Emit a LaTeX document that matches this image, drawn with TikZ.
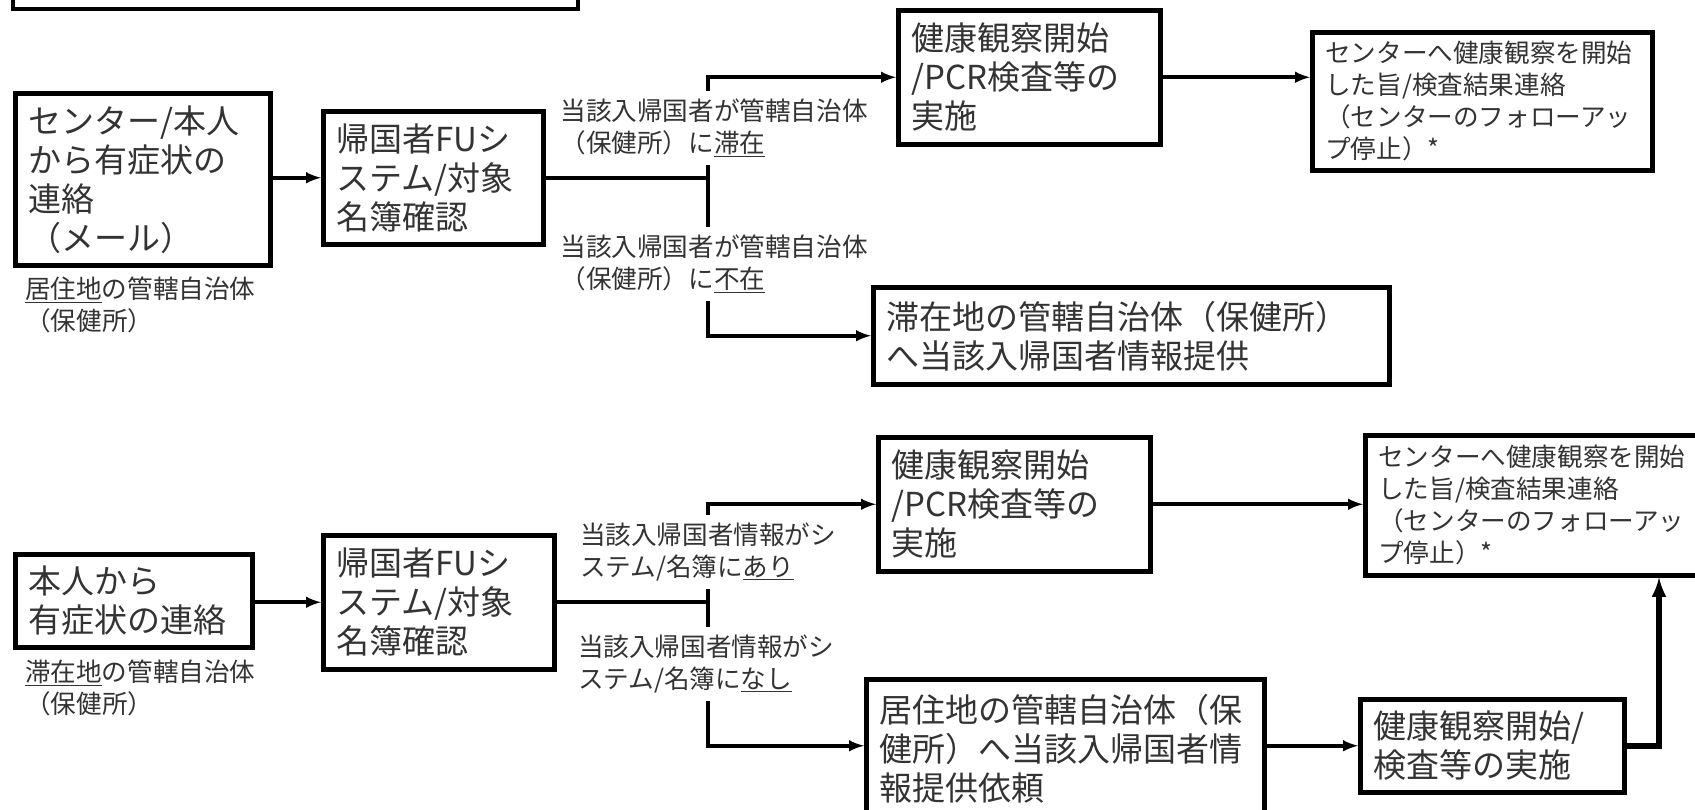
\documentclass[tikz,border=0pt]{standalone}
\usepackage{fontspec}
\setmainfont{Noto Sans CJK JP}
\usepackage{tikz}
\usetikzlibrary{arrows}

\newcommand{\bigtxt}{\fontsize{33}{39}\selectfont}
\newcommand{\smalltxt}{\fontsize{25.6}{32}\selectfont}

\tikzset{
  box/.style={draw, line width=4.5pt, anchor=north west, align=left,
    inner xsep=13pt, inner ysep=3pt, font=\bigtxt, text=black!80},
  smallbox/.style={box, font=\smalltxt},
  lbl/.style={font=\smalltxt, align=left, text=black!80},
  cond/.style={lbl, fill=white, inner xsep=3pt, inner ysep=8pt},
  flow/.style={line width=4pt},
  arr/.style={flow, -latex},
}

\begin{document}
\begin{tikzpicture}[x=1pt,y=-1pt]
    \useasboundingbox (0,0) rectangle (1695,809);
    \draw[line width=4.5pt] (13,-40) rectangle (578,9);

    % upper flow
    \node[box, text width=229pt, minimum height=172pt] (A1) at (13,91)
        {センター/本人\\から有症状の\\連絡\\（メール）};
    \node[lbl, anchor=west, inner sep=0pt] (L1) at (25,305)
        {\underline{居住地}の管轄自治体\\（保健所）};
    \node[box, text width=194pt, minimum height=133pt] (B1) at (321,109)
        {帰国者FUシ\\ステム/対象\\名簿確認};
    \node[box, text width=236pt, minimum height=134pt] (C1) at (896,8)
        {健康観察開始\\/PCR検査等の\\実施};
    \node[smallbox, text width=314pt, minimum height=138pt] (D1) at (1310,30)
        {センターへ健康観察を開始\\した旨/検査結果連絡\\（センターのフォローアッ\\プ停止）*};
    \node[box, text width=490pt, minimum height=97pt] (E1) at (871,285)
        {滞在地の管轄自治体（保健所）\\へ当該入帰国者情報提供};

    \coordinate (j1) at (708,175);
    \draw[arr] (A1.east |- B1.west) -- (B1.west);
    \draw[flow] (B1.east) -- (B1.east -| j1);
    \draw[arr] (B1.east -| j1) |- (C1.west);
    \draw[arr] (B1.east -| j1) |- (E1.west);
    \draw[arr] (C1.east) -- (C1.east -| D1.west);
    \node[cond] (T1) at (714,128)
        {当該入帰国者が管轄自治体\\（保健所）に\underline{滞在}};
    \node[cond] (T2) at (714,264)
        {当該入帰国者が管轄自治体\\（保健所）に\underline{不在}};

    % lower flow
    \node[box, text width=211pt, minimum height=93pt] (A2) at (13,552)
        {本人から\\有症状の連絡};
    \node[lbl, anchor=west, inner sep=0pt] (L2) at (25,688)
        {\underline{滞在地}の管轄自治体\\（保健所）};
    \node[box, text width=205pt, minimum height=134pt] (B2) at (321,533)
        {帰国者FUシ\\ステム/対象\\名簿確認};
    \node[box, text width=246pt, minimum height=134pt] (C2) at (876,435)
        {健康観察開始\\/PCR検査等の\\実施};
    \node[smallbox, text width=331pt, minimum height=140pt] (D2) at (1363,433)
        {センターへ健康観察を開始\\した旨/検査結果連絡\\（センターのフォローアッ\\プ停止）*};
    \node[box, text width=372pt, minimum height=140pt] (F2) at (864,677)
        {居住地の管轄自治体（保\\健所）へ当該入帰国者情\\報提供依頼};
    \node[box, text width=238pt, minimum height=93pt] (G2) at (1358,697)
        {健康観察開始/\\検査等の実施};

    \coordinate (j2) at (708,600);
    \coordinate (k2) at (1659,0);
    \draw[arr] (A2.east |- B2.west) -- (B2.west);
    \draw[flow] (B2.east) -- (B2.east -| j2);
    \draw[arr] (B2.east -| j2) |- (C2.west);
    \draw[arr] (B2.east -| j2) |- (F2.west |- G2.west);
    \draw[arr] (C2.east) -- (C2.east -| D2.west);
    \draw[arr] (F2.east |- G2.west) -- (G2.west);
    \draw[arr, line width=5.5pt] (G2.east) -| (k2 |- D2.south);
    \node[cond] (T3) at (708,552)
        {当該入帰国者情報がシ\\ステム/名簿に\underline{あり}};
    \node[cond] (T4) at (706,664)
        {当該入帰国者情報がシ\\ステム/名簿に\underline{なし}};
\end{tikzpicture}
\end{document}
